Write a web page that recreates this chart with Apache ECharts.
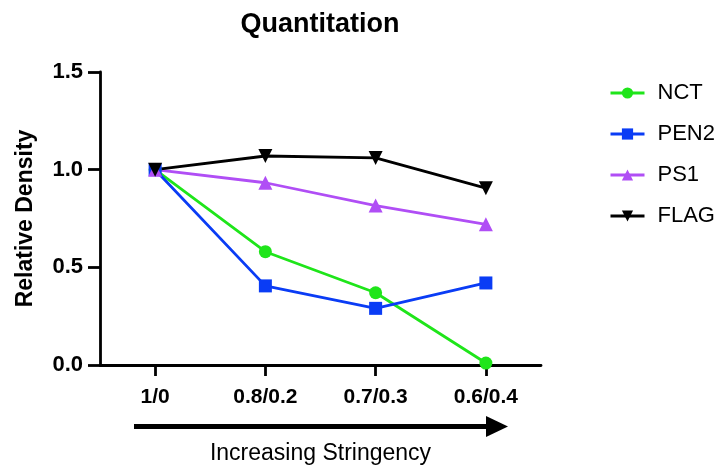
<!DOCTYPE html>
<html>
<head>
<meta charset="utf-8">
<script src="https://cdn.jsdelivr.net/npm/echarts@6/dist/echarts.min.js"></script>
<style>
html,body{margin:0;padding:0;background:#fff;}
#chart{width:721px;height:466px;}
</style>
</head>
<body>
<div id="chart"></div>
<script>
const categories = ['1/0', '0.8/0.2', '0.7/0.3', '0.6/0.4'];
const nct  = [1.0, 0.58, 0.37, 0.01];
const pen2 = [1.0, 0.405, 0.29, 0.42];
const ps1  = [1.0, 0.933, 0.816, 0.72];
const flag = [1.0, 1.07, 1.06, 0.905];
const yTicks = [0, 0.5, 1.0, 1.5];

const FONT = 'Liberation Sans, Arial, Helvetica, sans-serif';
const chart = echarts.init(document.getElementById('chart'));

function mk(name, data, color, symbol, size, rotate) {
  return {
    name: name, type: 'line', data: data,
    symbol: symbol, symbolSize: size, symbolRotate: rotate || 0,
    lineStyle: { color: color, width: 2.8 },
    itemStyle: { color: color, borderWidth: 0 },
    emphasis: { disabled: true },
    animation: false
  };
}

chart.setOption({
  backgroundColor: '#ffffff',
  animation: false,
  title: {
    text: 'Quantitation', left: 315, top: 6, textAlign: 'center',
    textStyle: { fontFamily: FONT, fontSize: 27, fontWeight: 'bold', color: '#000' }
  },
  legend: {
    orient: 'vertical', left: 604, top: 77, itemGap: 19,
    itemWidth: 34, itemHeight: 14,
    lineStyle: { width: 3 },
    textStyle: { fontFamily: FONT, fontSize: 22, color: '#000', padding: [0, 0, 0, 8] },
    data: ['NCT', 'PEN2', 'PS1', 'FLAG']
  },
  grid: { left: 100, right: 180, top: 72, bottom: 101, containLabel: false, outerBoundsMode: 'none' },
  xAxis: {
    type: 'category', data: categories, boundaryGap: true,
    name: 'Increasing Stringency', nameLocation: 'middle', nameGap: 77,
    nameTextStyle: { fontFamily: FONT, fontSize: 23, color: '#000' },
    axisLine: { show: true, lineStyle: { color: '#000', width: 2.8 } },
    axisTick: { show: true, alignWithLabel: true, length: 11, lineStyle: { color: '#000', width: 2.8 } },
    axisLabel: { fontFamily: FONT, fontSize: 21, fontWeight: 'bold', color: '#000', margin: 22 },
    splitLine: { show: false }
  },
  yAxis: {
    type: 'value', min: yTicks[0], max: yTicks[yTicks.length - 1], interval: 0.5,
    name: 'Relative Density', nameLocation: 'middle', nameGap: 63,
    nameTextStyle: { fontFamily: FONT, fontSize: 23, fontWeight: 'bold', color: '#000' },
    axisLine: { show: true, lineStyle: { color: '#000', width: 2.8 } },
    axisTick: { show: true, length: 12, lineStyle: { color: '#000', width: 2.8 } },
    axisLabel: { fontFamily: FONT, fontSize: 22, fontWeight: 'bold', color: '#000', margin: 17,
      formatter: v => v.toFixed(1) },
    splitLine: { show: false }
  },
  graphic: [
    { type: 'rect', shape: { x: 134, y: 424, width: 356, height: 5 }, style: { fill: '#000' } },
    { type: 'polygon', shape: { points: [[486, 416], [508, 426.5], [486, 437]] }, style: { fill: '#000' } }
  ],
  series: [
    mk('NCT', nct, '#1fe51a', 'circle', 13),
    mk('PEN2', pen2, '#0a3cf5', 'rect', 13),
    mk('PS1', ps1, '#b04ef5', 'triangle', 14),
    mk('FLAG', flag, '#000000', 'triangle', 14, 180)
  ]
});
</script>
</body>
</html>
